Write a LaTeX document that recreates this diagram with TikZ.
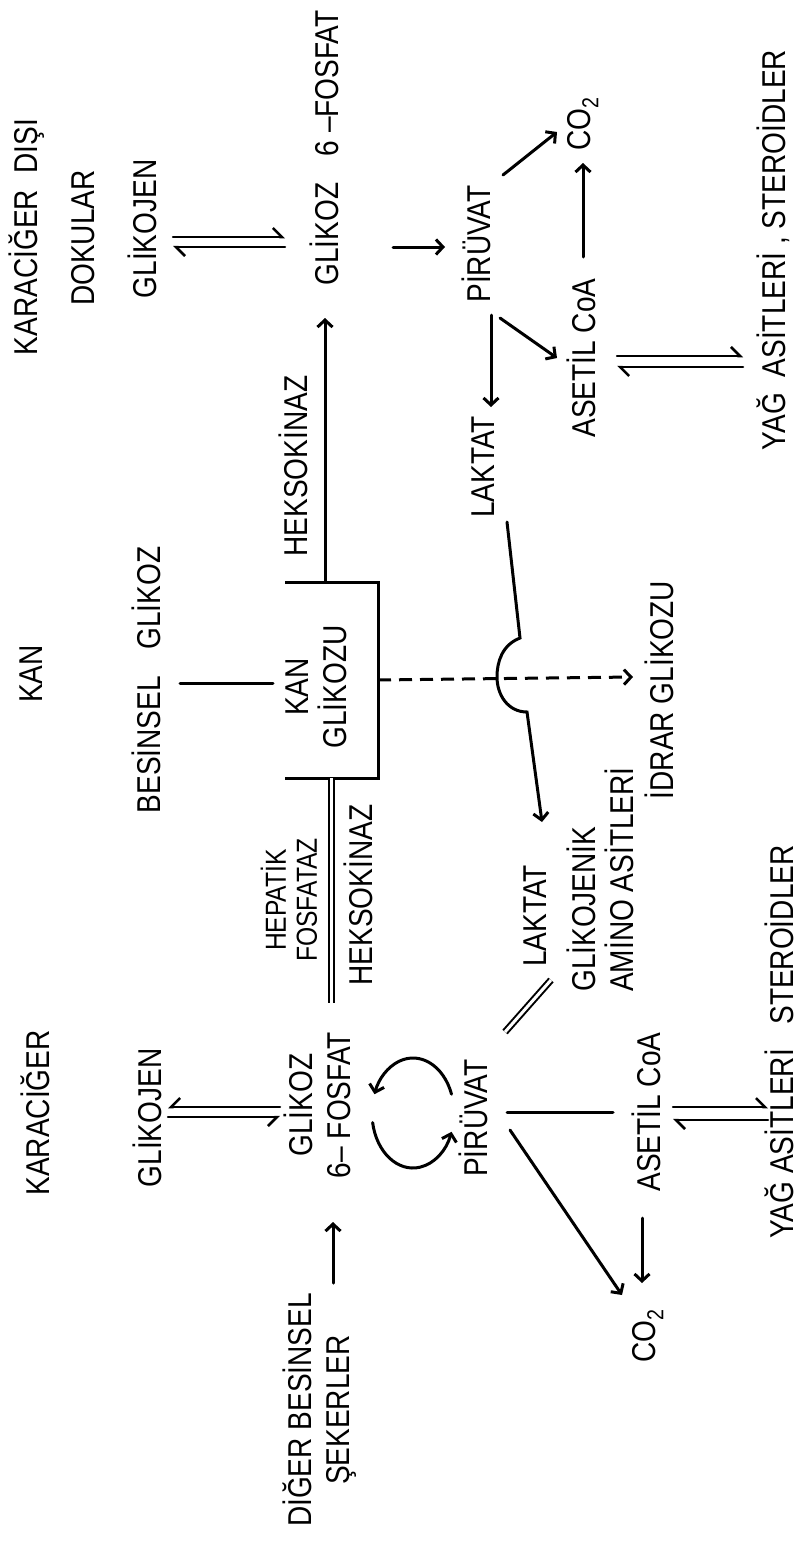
\documentclass[tikz,border=0pt]{standalone}
\usepackage{fontspec}
\setmainfont{Liberation Sans}[FakeStretch=0.85]
\usetikzlibrary{arrows.meta}
\newcommand\lfont{\fontsize{33}{38}\selectfont}
\newcommand\sfont{\fontsize{29}{31}\selectfont}
\tikzset{
 lbl/.style={rotate=90, inner sep=0pt, font=\lfont, align=center},
 sml/.style={lbl, font=\sfont},
 ln/.style={line width=3pt, line cap=round},
 arr/.style={ln, -{Straight Barb[length=7pt,width=15pt]}},
 harp/.style={line width=2.5pt, line cap=round, -{Straight Barb[left,length=9pt,width=18pt]}},
 harpr/.style={line width=2.5pt, line cap=round, -{Straight Barb[right,length=9pt,width=18pt]}},
 dbl/.style={line width=2pt, double distance=3pt},
}
\begin{document}
\begin{tikzpicture}[x=1pt,y=-1pt]
\useasboundingbox (0,0) rectangle (799,1545);
% ---- labels (right half: extra-hepatic tissues) ----
\node[lbl] (kdd) at (27,237) {KARACİĞER\hspace{0.5em}DIŞI};
\node[lbl] (dok) at (83,238) {DOKULAR};
\node[lbl] (gjR) at (142,229) {GLİKOJEN};
\node[lbl] (gfR) at (324,148) {GLİKOZ\hspace{0.8em}6 –FOSFAT};
\node[lbl] (hk1) at (293,466) {HEKSOKİNAZ};
\node[lbl] (pvR) at (476,244) {PİRÜVAT};
\node[lbl] (lkR) at (483,467) {LAKTAT};
\node[lbl] (co2R) at (583,124) {CO\textsubscript{2}};
\node[lbl] (acR) at (581,358) {ASETİL CoA};
\node[lbl] (yaR) at (773,250) {YAĞ~~ASİTLERİ , STEROİDLER};
% ---- blood ----
\node[lbl] (kan) at (31,674) {KAN};
\node[lbl] (bg) at (146,680) {BESİNSEL\hspace{0.8em}GLİKOZ};
\node[lbl] (kg) at (316,687) {KAN\\GLİKOZU};
\node[sml] (hf) at (289,900) {HEPATİK\\FOSFATAZ};
\node[lbl] (hk2) at (358,895) {HEKSOKİNAZ};
\node[lbl] (ig) at (659,690) {İDRAR GLİKOZU};
% ---- liver ----
\node[lbl] (kar) at (35,1113) {KARACİĞER};
\node[lbl] (gjL) at (147,1118) {GLİKOJEN};
\node[lbl] (gfL) at (317,1105) {GLİKOZ\\6– FOSFAT};
\node[lbl] (pvL) at (473,1118) {PİRÜVAT};
\node[lbl] (lkL) at (535,916) {LAKTAT};
\node[lbl, align=left, anchor=west] (ga) at (600,992) {GLİKOJENİK\\AMİNO ASİTLERİ};
\node[lbl] (st) at (779,935) {STEROİDLER};
\node[lbl] (yaL) at (779,1144) {YAĞ ASİTLERİ};
\node[lbl] (acL) at (646,1112) {ASETİL CoA};
\node[lbl] (co2L) at (648,1336) {CO\textsubscript{2}};
\node[lbl] (dbs) at (320,1410) {DİĞER BESİNSEL\\ŞEKERLER};
% ---- connector end points ----
\coordinate (r1a) at (173,237); \coordinate (r1b) at (285,237);
\coordinate (r2a) at (285,247); \coordinate (r2b) at (173,247);
\coordinate (b1) at (285,582); \coordinate (b2) at (378,582);
\coordinate (b3) at (378,778); \coordinate (b4) at (285,778);
\coordinate (bt) at (325,582); \coordinate (gfRin) at (325,318);
\coordinate (dsA) at (378,680); \coordinate (dsB) at (633,677);
\coordinate (bgA) at (180,683); \coordinate (bgB) at (273,683);
\coordinate (dlA) at (331,778); \coordinate (dlB) at (331,1003);
\coordinate (gpA) at (393,247); \coordinate (gpB) at (445,247);
\coordinate (pcA) at (503,175); \coordinate (pcB) at (557,132);
\coordinate (paA) at (500,318); \coordinate (paB) at (557,358);
\coordinate (plA) at (491,315); \coordinate (plB) at (491,407);
\coordinate (acA) at (583,257); \coordinate (acB) at (583,163);
\coordinate (ry1a) at (617,356); \coordinate (ry1b) at (743,356);
\coordinate (ry2a) at (743,367); \coordinate (ry2b) at (617,367);
\coordinate (lk1) at (507,522); \coordinate (lk2) at (520,638);
\coordinate (lk3) at (497,677); \coordinate (lk4) at (527,712);
\coordinate (lk5) at (542,822);
\coordinate (l1a) at (280,1107); \coordinate (l1b) at (168,1107);
\coordinate (l2a) at (168,1117); \coordinate (l2b) at (280,1117);
\coordinate (cyU) at ({413+41*cos(-20)},{1113+55*sin(-20)});
\coordinate (cyL) at ({413+41*cos(170)},{1113+55*sin(170)});
\coordinate (plLA) at (505,1032); \coordinate (plLB) at (551,980);
\coordinate (paLA) at (507,1112); \coordinate (paLB) at (613,1112);
\coordinate (pcLA) at (510,1130); \coordinate (pcLB) at (622,1295);
\coordinate (acLA) at (642,1218); \coordinate (acLB) at (642,1283);
\coordinate (ly1a) at (673,1107); \coordinate (ly1b) at (768,1107);
\coordinate (ly2a) at (768,1120); \coordinate (ly2b) at (673,1120);
\coordinate (dsgA) at (333,1283); \coordinate (dsgB) at (333,1222);
% ---- connectors ----
\draw[harp] (r1a) -- (r1b);
\draw[harp] (r2a) -- (r2b);
\draw[ln, line join=miter, line cap=butt] (b1) -- (b2) -- (b3) -- (b4);
\draw[arr] (bt) -- (gfRin);
\draw[line width=3pt, dash pattern=on 13pt off 8pt, -{Straight Barb[length=7pt,width=15pt]}] (dsA) -- (dsB);
\draw[ln] (bgA) -- (bgB);
\draw[dbl] (dlA) -- (dlB);
\draw[arr] (gpA) -- (gpB);
\draw[arr] (pcA) -- (pcB);
\draw[arr] (paA) -- (paB);
\draw[arr] (plA) -- (plB);
\draw[arr] (acA) -- (acB);
\draw[harp] (ry1a) -- (ry1b);
\draw[harp] (ry2a) -- (ry2b);
\draw[arr] (lk1) -- (lk2) .. controls (502,645) and (497,662) .. (lk3)
   .. controls (497,695) and (508,712) .. (lk4) -- (lk5);
\draw[harpr] (l1a) -- (l1b);
\draw[harpr] (l2a) -- (l2b);
\draw[arr] (cyU) arc[start angle=-20, end angle=-160, x radius=41, y radius=55];
\draw[arr] (cyL) arc[start angle=170, end angle=20, x radius=41, y radius=55];
\draw[dbl] (plLA) -- (plLB);
\draw[ln] (paLA) -- (paLB);
\draw[arr] (pcLA) -- (pcLB);
\draw[arr] (acLA) -- (acLB);
\draw[harp] (ly1a) -- (ly1b);
\draw[harp] (ly2a) -- (ly2b);
\draw[arr] (dsgA) -- (dsgB);
\end{tikzpicture}
\end{document}
